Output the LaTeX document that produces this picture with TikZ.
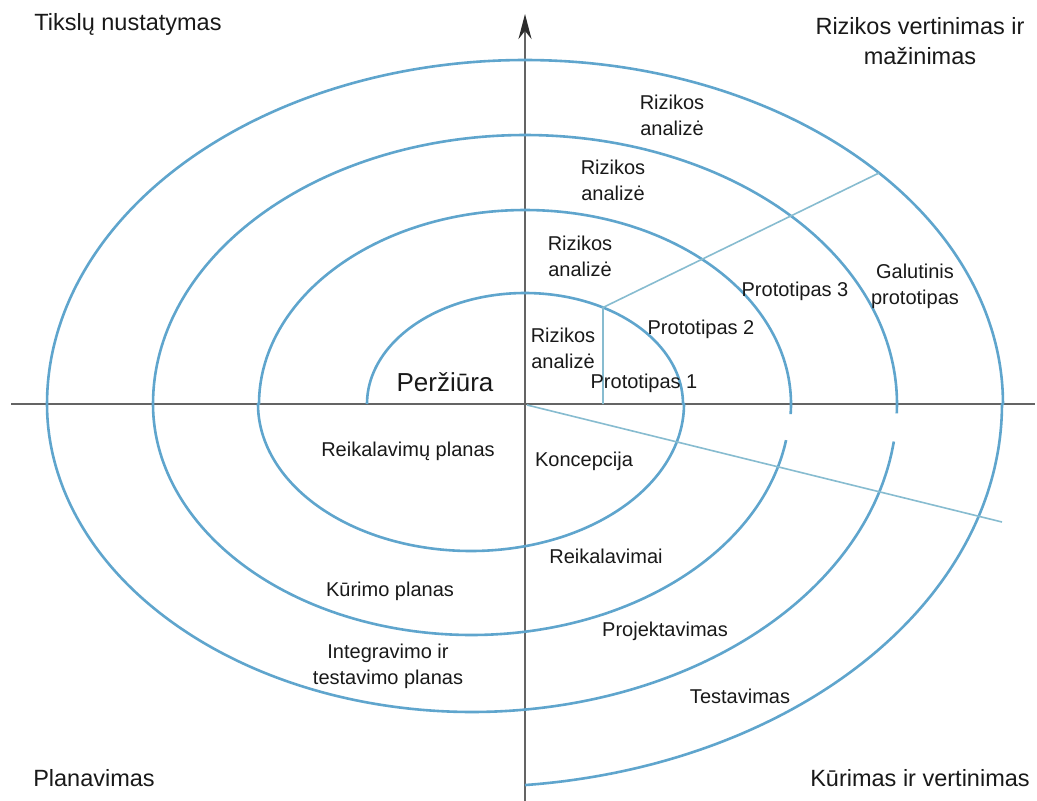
\documentclass[tikz,border=0pt]{standalone}
\usepackage{fontspec}
\setmainfont{Liberation Sans}
\usetikzlibrary{arrows.meta}
\definecolor{spiralblue}{RGB}{95,165,205}
\definecolor{rayblue}{RGB}{135,188,208}
\definecolor{axisgray}{RGB}{100,100,100}
\definecolor{arrowink}{RGB}{45,45,45}
\definecolor{labelink}{RGB}{25,25,25}

\begin{document}
\begin{tikzpicture}[x=1pt,y=-1pt,
  spiral/.style={draw=spiralblue, line width=2.6pt, line join=round},
  ray/.style={draw=rayblue, line width=1.6pt},
  axis/.style={draw=axisgray, line width=2.2pt},
  lbl/.style={text=labelink, font=\fontsize{20}{26}\selectfont, align=center, inner sep=0pt},
  corner/.style={text=labelink, font=\fontsize{23.5}{30}\selectfont, align=center, inner sep=0pt},
  bigword/.style={text=labelink, font=\fontsize{26}{30}\selectfont, inner sep=0pt},
]
\fill[white] (0,0) rectangle (1037,801);
\useasboundingbox (0,0) rectangle (1037,801);

% axes
\coordinate (west) at (11,404);
\coordinate (east) at (1035,404);
\coordinate (south) at (525,801);
\coordinate (north) at (525,14);
\draw[axis] (west) -- (east);
\draw[axis, -{Stealth[length=25pt,width=13pt,color=arrowink]}] (south) -- (north);

% spiral: upper halves centred on the axis, lower halves shifted left
\draw[spiral]
  plot[smooth, domain=180:360, samples=90, variable=\t] ({525+158*cos(\t)},{404+111*sin(\t)})
  -- plot[smooth, domain=0:180, samples=90, variable=\t] ({471+213*cos(\t)},{404+147*sin(\t)})
  -- plot[smooth, domain=180:363, samples=90, variable=\t] ({525+266*cos(\t)},{404+194*sin(\t)});
\draw[spiral]
  plot[smooth, domain=9:180, samples=90, variable=\t] ({471.5+318.5*cos(\t)},{404+231*sin(\t)})
  -- plot[smooth, domain=180:362, samples=90, variable=\t] ({525+372*cos(\t)},{404+269*sin(\t)});
\draw[spiral]
  plot[smooth, domain=7:180, samples=90, variable=\t] ({472+425*cos(\t)},{404+308*sin(\t)})
  -- plot[smooth, domain=180:360, samples=90, variable=\t] ({525+478*cos(\t)},{404+344*sin(\t)})
  -- plot[smooth, domain=0:84.26, samples=60, variable=\t] ({472+530*cos(\t)},{404+383*sin(\t)});

% phase boundaries
\coordinate (p0) at (603,404);
\coordinate (p1) at (603,307.5);
\coordinate (p2) at (879,173);
\coordinate (q0) at (527,405);
\coordinate (q1) at (1002,522);
\draw[ray] (p0) -- (p1) -- (p2);
\draw[ray] (q0) -- (q1);

% quadrant titles
\node[corner] (goals) at (128,24) {Tikslų nustatymas};
\node[corner] (risk) at (920,41) {Rizikos vertinimas ir\\mažinimas};
\node[corner] (planning) at (94,778) {Planavimas};
\node[corner] (develop) at (920,778) {Kūrimas ir vertinimas};
\node[bigword] (review) at (445,382) {Peržiūra};

% risk analysis steps
\node[lbl] (ra4) at (672,115) {Rizikos\\analizė};
\node[lbl] (ra3) at (613,180) {Rizikos\\analizė};
\node[lbl] (ra2) at (580,256) {Rizikos\\analizė};
\node[lbl] (ra1) at (563,348) {Rizikos\\analizė};

% prototypes
\node[lbl] (pt1) at (644,383) {Prototipas 1};
\node[lbl] (pt2) at (701,329) {Prototipas 2};
\node[lbl] (pt3) at (795,291) {Prototipas 3};
\node[lbl] (ptf) at (915,286) {Galutinis\\prototipas};

% planning steps
\node[lbl] (pl1) at (408,451) {Reikalavimų planas};
\node[lbl] (pl2) at (390,591) {Kūrimo planas};
\node[lbl] (pl3) at (388,666) {Integravimo ir\\testavimo planas};

% development steps
\node[lbl] (dv1) at (584,461) {Koncepcija};
\node[lbl] (dv2) at (606,556) {Reikalavimai};
\node[lbl] (dv3) at (665,631) {Projektavimas};
\node[lbl] (dv4) at (740,696) {Testavimas};
\end{tikzpicture}
\end{document}
